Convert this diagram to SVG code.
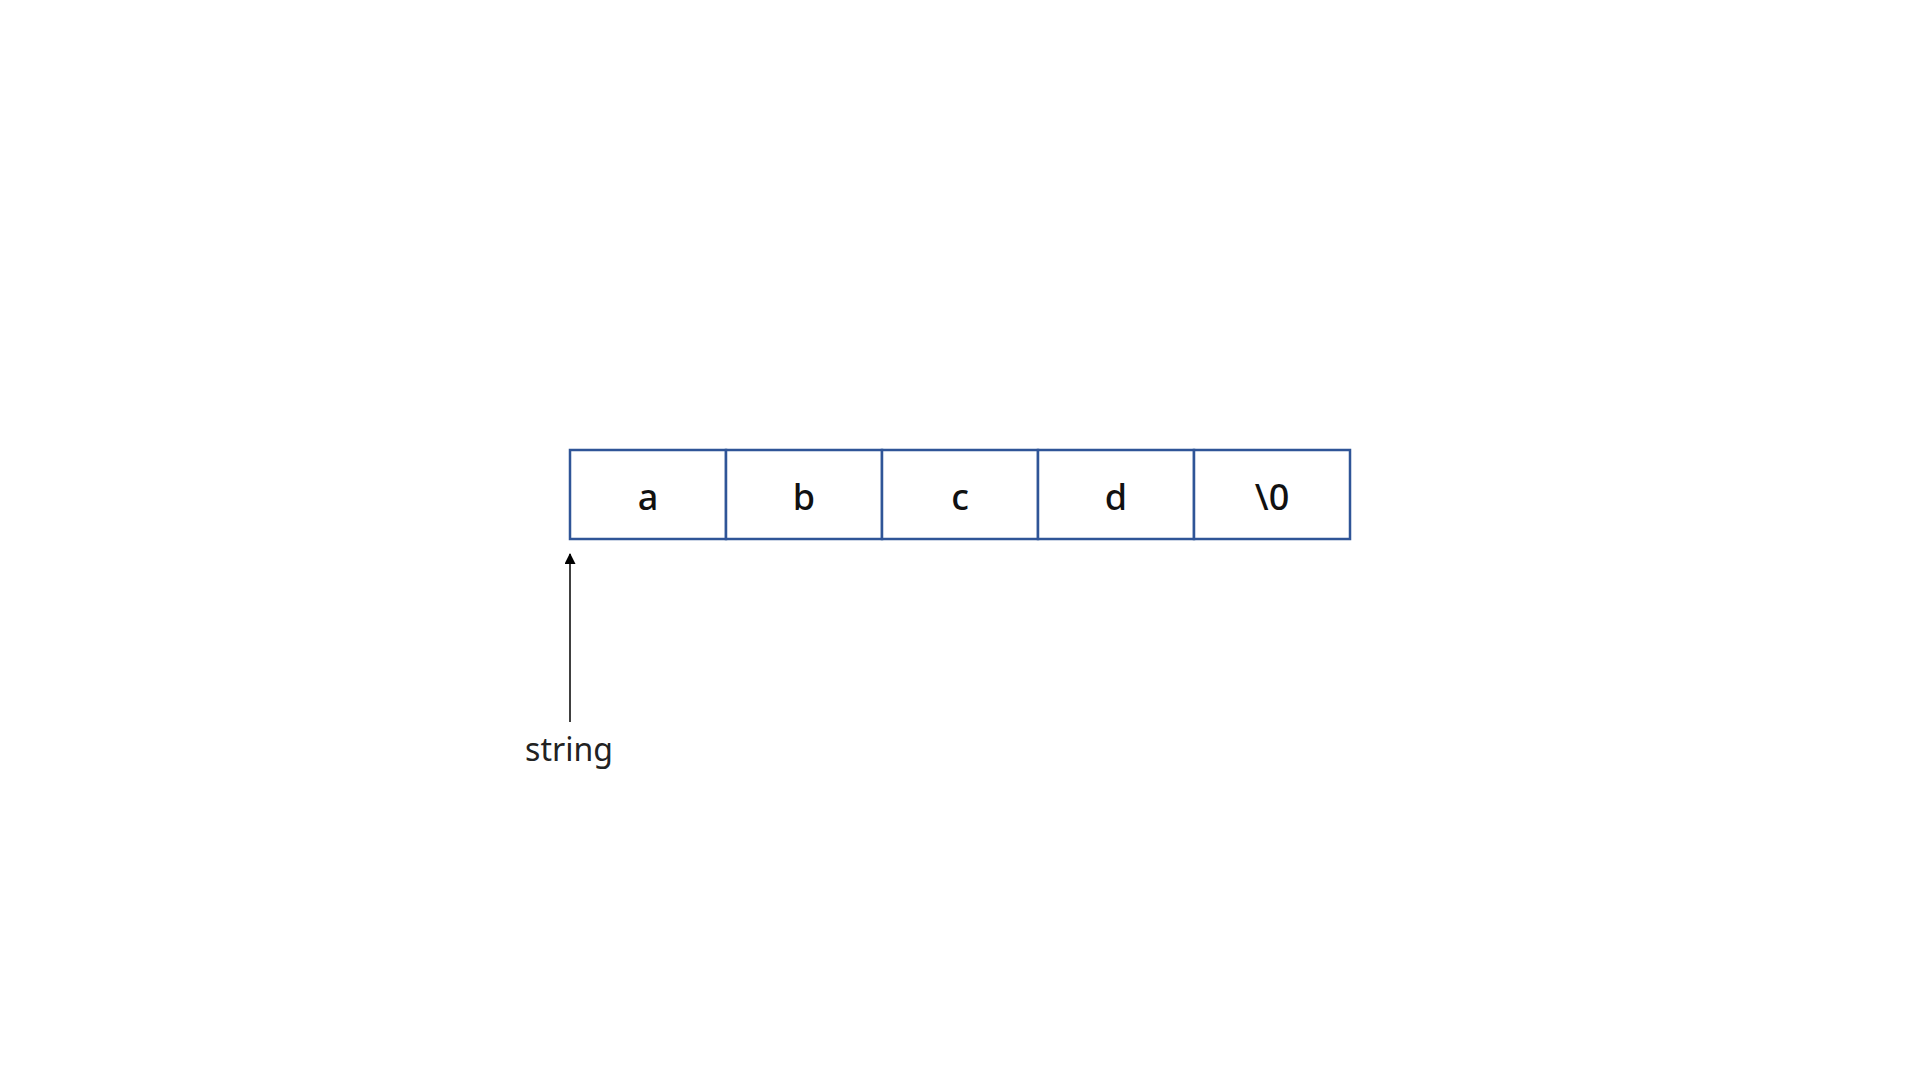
<svg xmlns="http://www.w3.org/2000/svg" width="1920" height="1080" viewBox="0 0 1920 1080">
<style>
.cell{fill:#fff;stroke:#2f5597;stroke-width:2.5}
.ch{font-family:"Noto Sans","Liberation Sans",sans-serif;font-size:36px;font-weight:500;fill:#111;text-anchor:middle}
.lbl{font-family:"Noto Sans","Liberation Sans",sans-serif;font-size:32px;fill:#222;text-anchor:middle}
.conn{stroke:#000;stroke-width:1.5;fill:none}
</style>
<defs>
<marker id="arr" markerWidth="11" markerHeight="11" refX="10" refY="5.5" orient="auto" markerUnits="userSpaceOnUse" viewBox="0 0 11 11">
<path d="M0,0 L11,5.5 L0,11 Z" fill="#000"/>
</marker>
</defs>
<rect width="1920" height="1080" fill="#fff"/>
<g id="cell-a"><rect class="cell" x="570" y="450" width="156" height="89"/><text class="ch" x="648" y="510">a</text></g>
<g id="cell-b"><rect class="cell" x="726" y="450" width="156" height="89"/><text class="ch" x="804" y="510">b</text></g>
<g id="cell-c"><rect class="cell" x="882" y="450" width="156" height="89"/><text class="ch" x="960" y="510">c</text></g>
<g id="cell-d"><rect class="cell" x="1038" y="450" width="156" height="89"/><text class="ch" x="1116" y="510">d</text></g>
<g id="cell-nul"><rect class="cell" x="1194" y="450" width="156" height="89"/><text class="ch" x="1272" y="510">\0</text></g>
<g id="label-string"><text class="lbl" x="569" y="761">string</text></g>
<g id="connectors">
<path class="conn" d="M570,722 L570,554" marker-end="url(#arr)"/>
</g>
</svg>
